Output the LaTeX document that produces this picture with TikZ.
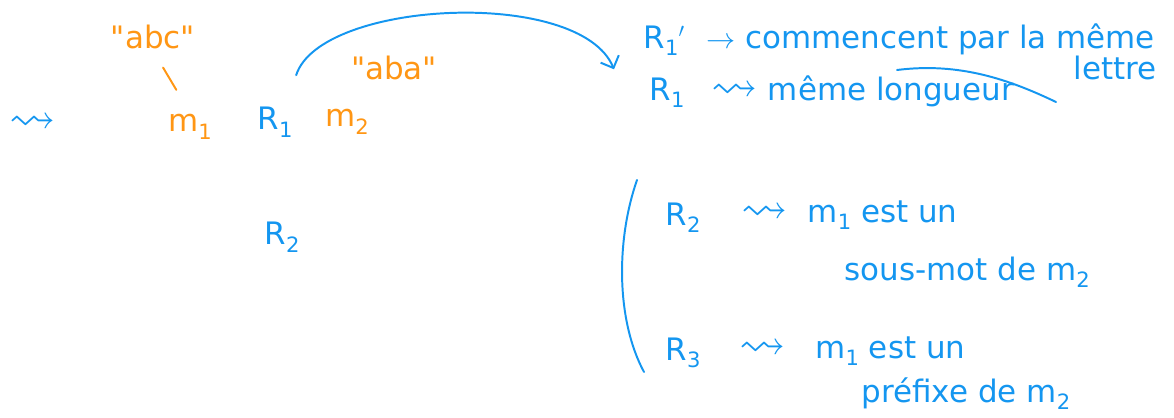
\documentclass[tikz,border=0pt]{standalone}
\usepackage{amssymb}
\usepackage{graphicx}
\usepackage{fontspec}
\setmainfont{DejaVu Sans}
\newfontfamily\plainfont{DejaVu Sans}
\usetikzlibrary{arrows.meta}

\definecolor{inkblue}{RGB}{20,150,240}
\definecolor{inkorange}{RGB}{255,150,20}

% subscript written low and large, as by hand
\newcommand{\lowsub}[1]{\raisebox{-0.45ex}{\fontsize{15}{15}\selectfont #1}}
\newcommand{\squig}{\scalebox{1.5}{$\rightsquigarrow$}}
\newcommand{\qq}{{\plainfont\symbol{34}}}

\tikzset{
  ink/.style={line width=1.4pt, line cap=round},
  bluetxt/.style={text=inkblue, font=\fontsize{22}{26}\selectfont, inner sep=1pt},
  orangetxt/.style={text=inkorange, font=\fontsize{22}{26}\selectfont, inner sep=1pt},
}

\begin{document}
\begin{tikzpicture}[x=0.025cm, y=-0.025cm]
  \useasboundingbox (0,0) rectangle (1174,417);

  % Left: the two words and the relations between them
  \node[bluetxt] (lead) at (33,124) {\squig};
  \node[orangetxt] (abc) at (153,37) {\qq abc\qq};
  \node[orangetxt] (m1) at (190,127) {m\lowsub{1}};
  \node[bluetxt] (r1) at (275,122) {R\lowsub{1}};
  \node[orangetxt] (m2) at (347,122) {m\lowsub{2}};
  \node[orangetxt] (aba) at (394,68) {\qq aba\qq};
  \node[bluetxt] (r2) at (282,237) {R\lowsub{2}};

  % "abc" belongs to m1
  \draw[ink, inkorange, shorten <=14pt, shorten >=19pt] (abc.south) -- (m1.north);

  % Right: first block
  \node[bluetxt, anchor=base west] (r1p) at (642,48) {R\lowsub{1}$'$};
  \node[bluetxt, anchor=base west] (d1p) at (705,48)
    {$\to$ commencent par la même};
  \node[bluetxt, anchor=base west] (lettre) at (1072,79) {lettre};
  \node[bluetxt, anchor=base west] (r1b) at (648,100) {R\lowsub{1}};
  \node[bluetxt, anchor=base west] (d1) at (710,100)
    {\squig\ même longueur};

  % Arc from R1 over to R1'
  \draw[ink, inkblue, -{Straight Barb[length=7pt]}]
    ([shift={(2,-30)}]r1.north east)
    .. controls (320,0) and (580,-13) ..
    ([shift={(-28,12)}]r1p.south west);

  % Stroke over "longueur"
  \draw[ink, inkblue] (897,70) .. controls (960,62) and (1010,80) .. (1056,102);

  % Right: second block, with its bracket
  \draw[ink, inkblue] (637,180) .. controls (616,240) and (616,320) .. (644,372);
  \node[bluetxt, anchor=base west] (r2b) at (664,225) {R\lowsub{2}};
  \node[bluetxt, anchor=base west] (d2) at (740,222)
    {\squig\ \ m\lowsub{1} est un};
  \node[bluetxt, anchor=base west] (d2b) at (843,280) {sous-mot de m\lowsub{2}};
  \node[bluetxt, anchor=base west] (r3b) at (664,360) {R\lowsub{3}};
  \node[bluetxt, anchor=base west] (d3) at (738,358)
    {\squig\ \ \ m\lowsub{1} est un};
  \node[bluetxt, anchor=base west] (d3b) at (860,402) {préfixe de m\lowsub{2}};
\end{tikzpicture}
\end{document}
